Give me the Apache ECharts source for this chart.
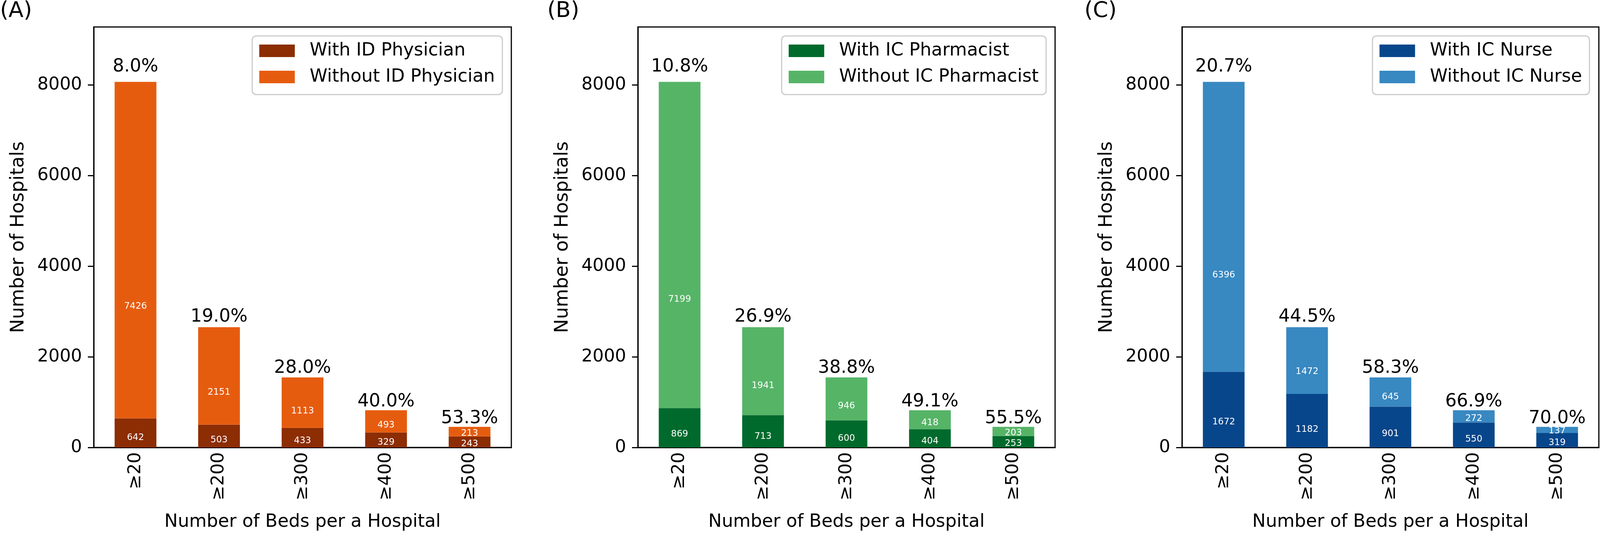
<!DOCTYPE html>
<html><head><meta charset="utf-8">
<script src="https://cdn.jsdelivr.net/npm/echarts@6/dist/echarts.min.js"></script>
<style>html,body{margin:0;padding:0;background:#fff;overflow:hidden}#c{width:100vw;height:1369px}</style>
</head><body><div id="c"></div>
<script>
const categories = ['≥20', '≥200', '≥300', '≥400', '≥500'];
const idWith = [642, 503, 433, 329, 243];
const idWithout = [7426, 2151, 1113, 493, 213];
const pharmWith = [869, 713, 600, 404, 253];
const pharmWithout = [7199, 1941, 946, 418, 203];
const nurseWith = [1672, 1182, 901, 550, 319];
const nurseWithout = [6396, 1472, 645, 272, 137];
const yTickValues = [0, 2000, 4000, 6000, 8000];
const panelLetters = ['(A)', '(B)', '(C)'];
const withNames = ['With ID Physician', 'With IC Pharmacist', 'With IC Nurse'];
const withoutNames = ['Without ID Physician', 'Without IC Pharmacist', 'Without IC Nurse'];
const xTitle = 'Number of Beds per a Hospital';
const yTitle = 'Number of Hospitals';

const FONT = '"DejaVu Sans", sans-serif';
const W = Math.min(window.innerWidth || 4156, 4156);
const sx = W / 4156;
const X = v => Math.round(v * sx);
const layout = [
  {left: 244, width: 1085, letterX: 0, legendRightEdge: 1305},
  {left: 1657, width: 1084, letterX: 1422, legendRightEdge: 2717},
  {left: 3070, width: 1083, letterX: 2817, legendRightEdge: 4129}
];
const colors = [
  ['#8c2d04', '#e65c0f'],
  ['#006a2c', '#56b467'],
  ['#08468b', '#3888c1']
];
const data = [[idWith, idWithout], [pharmWith, pharmWithout], [nurseWith, nurseWithout]];
const TOP = 69, BOTTOM_Y = 1145, YMAX = 9280;
const pxPerUnit = (BOTTOM_Y - TOP) / YMAX;

const grid = [], xAxis = [], yAxis = [], series = [], legend = [], graphic = [];
layout.forEach((L, i) => {
  grid.push({left: X(L.left), top: TOP, width: X(L.width), height: BOTTOM_Y - TOP, show: true,
    borderColor: '#000', borderWidth: 3, backgroundColor: '#fff', containLabel: false});
  xAxis.push({type: 'category', gridIndex: i, data: categories,
    axisLine: {lineStyle: {color: '#000', width: 3}},
    axisTick: {alignWithLabel: true, length: 15, lineStyle: {color: '#000', width: 3}},
    axisLabel: {rotate: 90, fontSize: 45, fontFamily: FONT, color: '#000', margin: 12},
    name: xTitle, nameLocation: 'middle', nameGap: 168,
    nameTextStyle: {fontSize: 46, fontFamily: FONT, color: '#000'}});
  yAxis.push({type: 'value', gridIndex: i, min: 0, max: YMAX, interval: 2000,
    splitLine: {show: false},
    axisLine: {show: true, lineStyle: {color: '#000', width: 3}},
    axisTick: {show: true, length: 15, lineStyle: {color: '#000', width: 3}, customValues: yTickValues},
    axisLabel: {fontSize: 45, fontFamily: FONT, color: '#000', margin: 30, customValues: yTickValues,
      formatter: v => String(v)},
    name: yTitle, nameLocation: 'middle', nameGap: X(170),
    nameTextStyle: {fontSize: 48, fontFamily: FONT, color: '#000'}});
  const [w, wo] = data[i];
  const innerLabel = {show: true, position: ['50%', '66.67%'], align: 'center', verticalAlign: 'middle',
    fontSize: 23, fontFamily: FONT, color: '#fff'};
  series.push({type: 'bar', name: withNames[i], xAxisIndex: i, yAxisIndex: i, stack: 's' + i,
    barWidth: '50%', data: w, itemStyle: {color: colors[i][0]}, label: innerLabel});
  series.push({type: 'bar', name: withoutNames[i], xAxisIndex: i, yAxisIndex: i, stack: 's' + i,
    barWidth: '50%', data: wo, itemStyle: {color: colors[i][1]}, label: innerLabel});
  series.push({type: 'bar', name: 'pct' + i, xAxisIndex: i, yAxisIndex: i, stack: 's' + i,
    barWidth: '50%', silent: true, itemStyle: {color: 'rgba(0,0,0,0)'},
    data: categories.map((c, k) => ({value: 0,
      label: {distance: -3 + 0.02 * (w[k] + wo[k]) * pxPerUnit}})),
    label: {show: true, position: 'top', fontSize: 46, fontFamily: FONT, color: '#000',
      formatter: p => (w[p.dataIndex] / (w[p.dataIndex] + wo[p.dataIndex]) * 100).toFixed(1) + '%'}});
  legend.push({data: [withNames[i], withoutNames[i]], orient: 'vertical', right: W - X(L.legendRightEdge), top: 92,
    itemWidth: X(92), itemHeight: 32, itemGap: 21, icon: 'rect',
    formatter: n => '{g|}' + n,
    textStyle: {fontSize: 46, lineHeight: 46, fontFamily: FONT, color: '#000',
      rich: {g: {width: X(33), fontSize: 46, lineHeight: 46}}},
    borderColor: '#cccccc', borderWidth: 3, borderRadius: 10, padding: [15, 19, 22, 18],
    backgroundColor: '#fff'});
  graphic.push({type: 'text', left: X(L.letterX), top: 0,
    style: {text: panelLetters[i], fontSize: 56, fontFamily: FONT, fill: '#000'}});
});

const chart = echarts.init(document.getElementById('c'), null, {renderer: 'canvas'});
chart.setOption({animation: false, backgroundColor: '#fff', grid, xAxis, yAxis, series, legend, graphic});
</script>
</body></html>
